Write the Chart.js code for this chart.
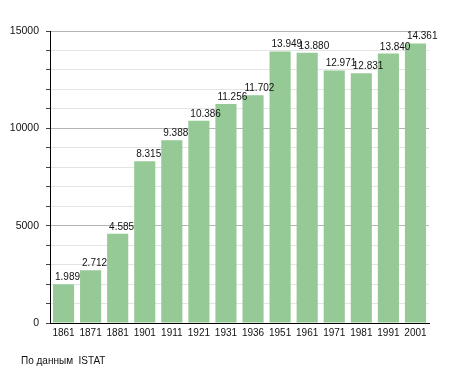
<!DOCTYPE html>
<html>
<head>
<meta charset="utf-8">
<script src="https://cdn.jsdelivr.net/npm/chart.js@4/dist/chart.umd.min.js"></script>
<style>
  body { margin: 0; background: #fff; }
  #wrap { position: relative; width: 455px; height: 373px; }
  #note { position: absolute; left: 21px; top: 355px; font: 10px "Liberation Sans", Arial, sans-serif; color: #111; white-space: pre; }
</style>
</head>
<body>
<div id="wrap">
  <canvas id="chart" width="455" height="373"></canvas>
  <div id="note">По данным  ISTAT</div>
</div>
<script>
// census years and population
var years = ['1861', '1871', '1881', '1901', '1911', '1921', '1931', '1936', '1951', '1961', '1971', '1981', '1991', '2001'];
var population = [1989, 2712, 4585, 8315, 9388, 10386, 11256, 11702, 13949, 13880, 12971, 12831, 13840, 14361];
var yLabels = [0, 5000, 10000, 15000];

var font = '"Liberation Sans", Arial, sans-serif';

function dotted(v) {
  return String(v).replace(/\B(?=(\d{3})+(?!\d))/g, '.');
}

// value over each bar, starting near its left edge
var barLabels = {
  id: 'barLabels',
  afterDatasetsDraw: function (chart) {
    var ctx = chart.ctx;
    var meta = chart.getDatasetMeta(0);
    ctx.save();
    ctx.font = '10px ' + font;
    ctx.fillStyle = '#111';
    ctx.textBaseline = 'alphabetic';
    ctx.textAlign = 'left';
    meta.data.forEach(function (bar, i) {
      ctx.fillText(dotted(population[i]), bar.x - bar.width / 2 + 2, bar.y - 4);
    });
    ctx.restore();
  }
};

new Chart(document.getElementById('chart'), {
  type: 'bar',
  data: {
    labels: years,
    datasets: [{
      data: population,
      backgroundColor: '#95c995',
      borderWidth: 0,
      barPercentage: 0.78,
      categoryPercentage: 1
    }]
  },
  options: {
    responsive: false,
    animation: false,
    layout: { padding: { top: 31, right: 26, bottom: 30, left: 0 } },
    plugins: { legend: { display: false }, tooltip: { enabled: false } },
    scales: {
      x: {
        afterFit: function (s) { s.height = 20; },
        grid: { display: false, drawTicks: false },
        border: { color: '#000', width: 1 },
        ticks: { color: '#111', font: { family: font, size: 10 }, padding: 4, autoSkip: false, maxRotation: 0 }
      },
      y: {
        min: 0,
        max: 15000,
        afterFit: function (s) { s.width = 50; },
        border: { color: '#000', width: 1 },
        grid: {
          color: function (c) { return c.tick.value % 5000 === 0 ? '#b4b4b4' : '#e4e4e4'; },
          tickColor: '#444',
          tickLength: 4
        },
        ticks: {
          stepSize: 1000,
          autoSkip: false,
          color: '#111',
          padding: 7,
          font: { family: font, size: 10.5 },
          callback: function (v) { return yLabels.indexOf(v) >= 0 ? String(v) : ''; }
        }
      }
    }
  },
  plugins: [barLabels]
});
</script>
</body>
</html>
